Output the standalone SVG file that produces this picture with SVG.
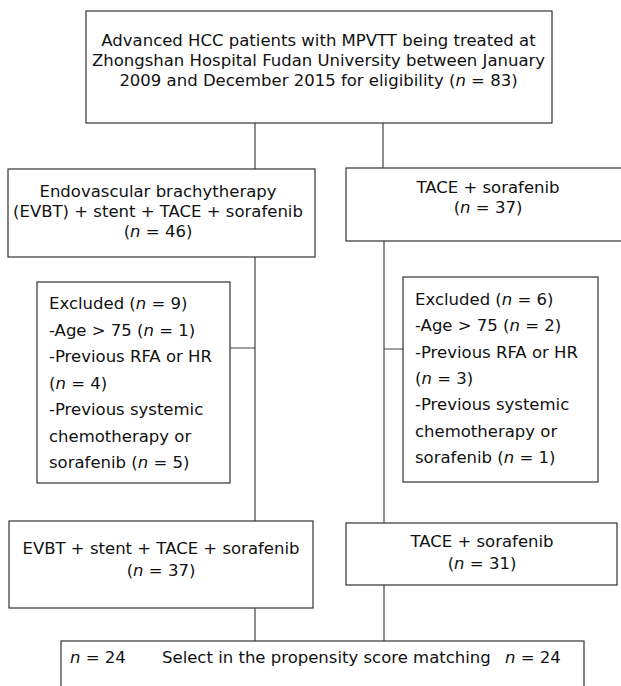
<svg xmlns="http://www.w3.org/2000/svg" width="621" height="686" viewBox="0 0 621 686">
<style>
.box{fill:#fff;stroke:#333;stroke-width:1.2}
.ln{fill:none;stroke:#444;stroke-width:1.2}
text{font-family:"DejaVu Sans","Verdana",sans-serif;font-size:16.5px;fill:#111}
.c{text-anchor:middle}
.i{font-style:italic}
</style>
<rect width="621" height="686" fill="#fff"/>
<g id="connectors">
<path class="ln" d="M255 123V169M255 257V521M230 348H255M255 608V641"/>
<path class="ln" d="M383 123V168M384 241V523M384 349H403M384 585V641"/>
</g>
<g id="start">
<rect class="box" x="86" y="11" width="466" height="112"/>
<text class="c" x="318.5" y="46">Advanced HCC patients with MPVTT being treated at</text>
<text class="c" x="318.5" y="66">Zhongshan Hospital Fudan University between January</text>
<text class="c" x="318.5" y="86">2009 and December 2015 for eligibility (<tspan class="i">n</tspan> = 83)</text>
</g>
<g id="evbt">
<rect class="box" x="8" y="169" width="307" height="88"/>
<text class="c" x="158" y="197">Endovascular brachytherapy</text>
<text class="c" x="158" y="217">(EVBT) + stent + TACE + sorafenib</text>
<text class="c" x="158" y="237">(<tspan class="i">n</tspan> = 46)</text>
</g>
<g id="tace">
<rect class="box" x="346" y="168" width="285" height="73"/>
<text class="c" x="488" y="193">TACE + sorafenib</text>
<text class="c" x="488" y="213">(<tspan class="i">n</tspan> = 37)</text>
</g>
<g id="excl-left">
<rect class="box" x="37" y="282" width="193" height="201"/>
<text x="49" y="309">Excluded (<tspan class="i">n</tspan> = 9)</text>
<text x="49" y="335.5">-Age &gt; 75 (<tspan class="i">n</tspan> = 1)</text>
<text x="49" y="362">-Previous RFA or HR</text>
<text x="49" y="388.5">(<tspan class="i">n</tspan> = 4)</text>
<text x="49" y="415">-Previous systemic</text>
<text x="49" y="441.5">chemotherapy or</text>
<text x="49" y="468">sorafenib (<tspan class="i">n</tspan> = 5)</text>
</g>
<g id="excl-right">
<rect class="box" x="403" y="277" width="195" height="205"/>
<text x="415" y="305">Excluded (<tspan class="i">n</tspan> = 6)</text>
<text x="415" y="331">-Age &gt; 75 (<tspan class="i">n</tspan> = 2)</text>
<text x="415" y="357.5">-Previous RFA or HR</text>
<text x="415" y="384">(<tspan class="i">n</tspan> = 3)</text>
<text x="415" y="410">-Previous systemic</text>
<text x="415" y="436.5">chemotherapy or</text>
<text x="415" y="463">sorafenib (<tspan class="i">n</tspan> = 1)</text>
</g>
<g id="evbt-final">
<rect class="box" x="9" y="521" width="304" height="87"/>
<text class="c" x="161" y="554">EVBT + stent + TACE + sorafenib</text>
<text class="c" x="161" y="576">(<tspan class="i">n</tspan> = 37)</text>
</g>
<g id="tace-final">
<rect class="box" x="346" y="523" width="271" height="62"/>
<text class="c" x="482" y="547">TACE + sorafenib</text>
<text class="c" x="482" y="569">(<tspan class="i">n</tspan> = 31)</text>
</g>
<g id="psm">
<rect class="box" x="61" y="641" width="523" height="60"/>
<text x="70" y="663"><tspan class="i">n</tspan> = 24</text>
<text x="162" y="663">Select in the propensity score matching</text>
<text x="505" y="663"><tspan class="i">n</tspan> = 24</text>
</g>
</svg>
